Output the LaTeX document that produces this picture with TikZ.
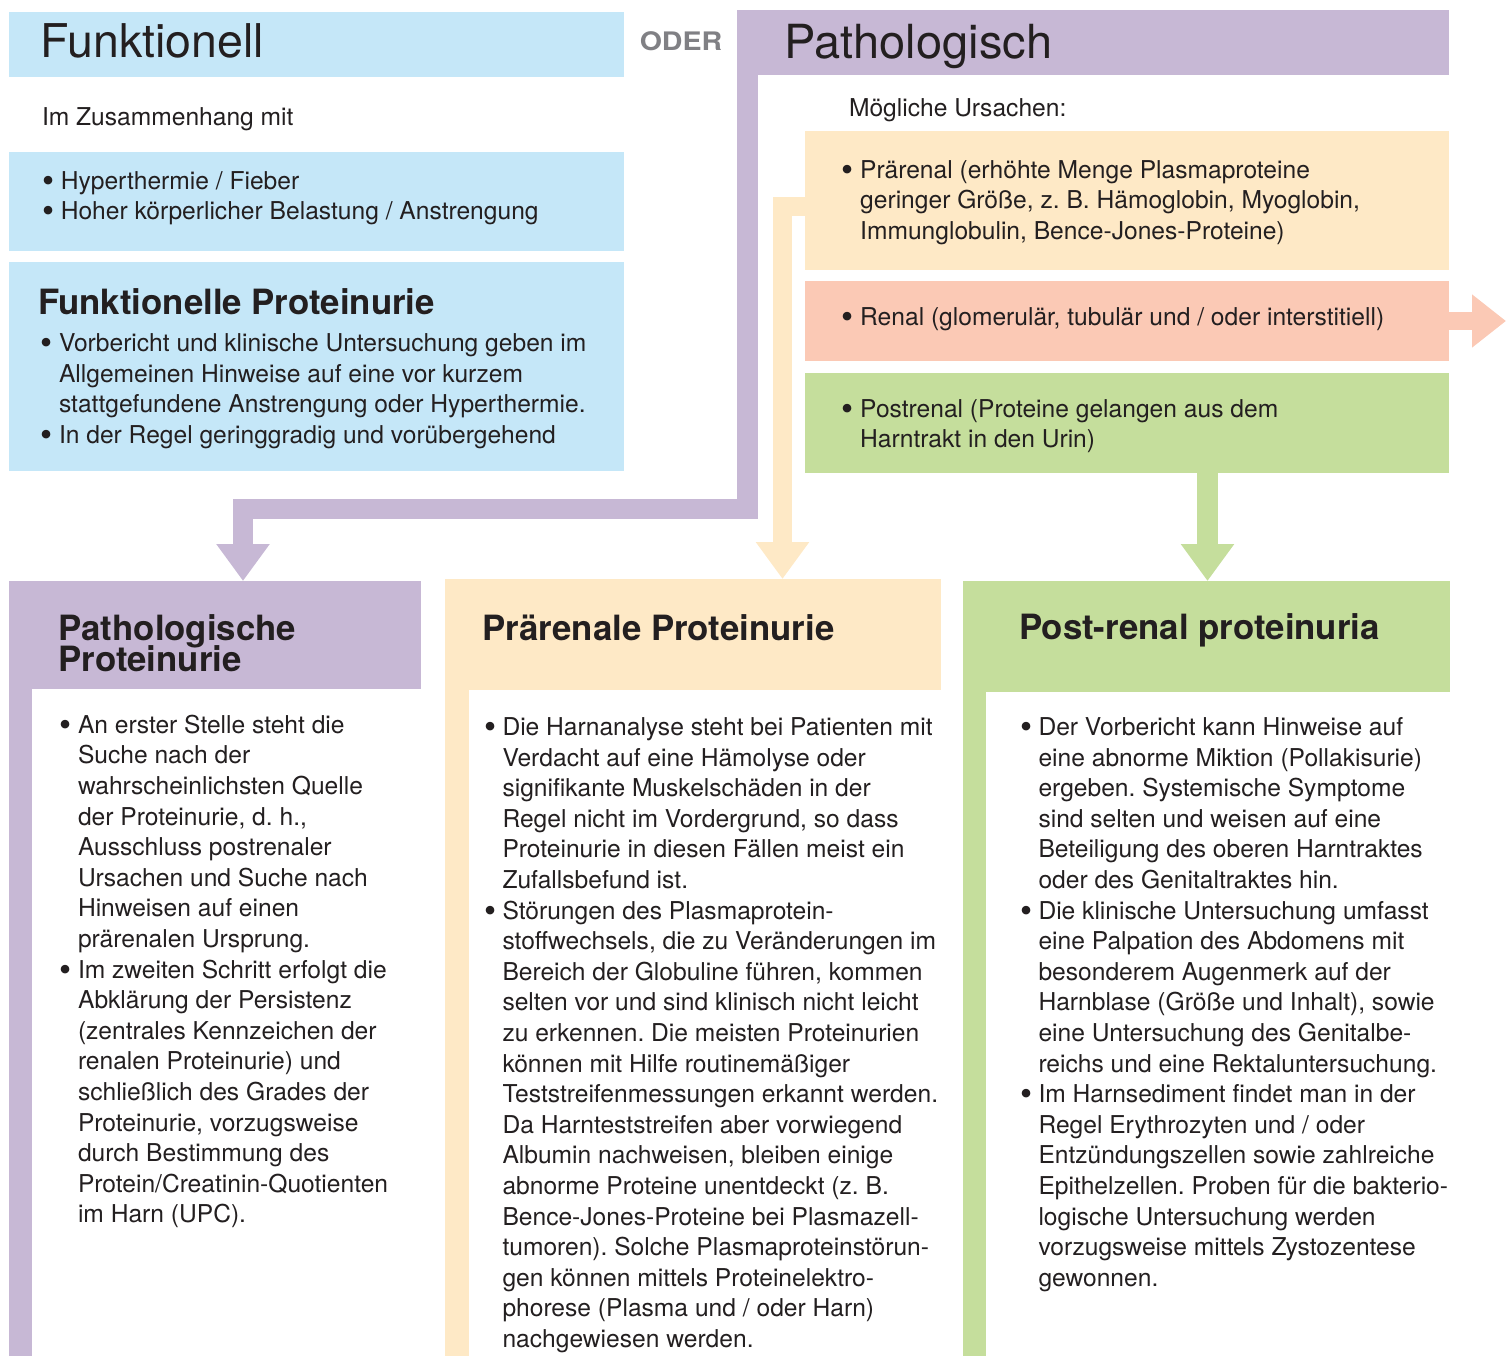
\documentclass[tikz,border=0pt]{standalone}
\usepackage{fontspec}
\usepackage{graphicx}
\setmainfont{TeX Gyre Heros}
\usetikzlibrary{arrows.meta}
\frenchspacing
\definecolor{cblue}{HTML}{C5E7F8}
\definecolor{cpurple}{HTML}{C7B8D5}
\definecolor{cbeige}{HTML}{FEE9C6}
\definecolor{csalmon}{HTML}{FBC9B5}
\definecolor{cgreen}{HTML}{C5DE9C}
\definecolor{ctext}{HTML}{231F20}
\definecolor{cgray}{HTML}{808084}
\newcommand\bodyfont{\fontsize{24.6}{30.6}\selectfont\frenchspacing}
\newcommand\headfont{\bfseries\fontsize{34.8}{31}\selectfont\lineskiplimit=-100pt }
\newcommand\bl{\makebox[18.5pt][l]{\smash{\raisebox{-3pt}{\scalebox{1.4}{\textbullet}}}}}
\newcommand\ind{\hspace*{18.5pt}}
\newcommand\firstl{\rule{0pt}{26pt}}
\begin{document}
\begin{tikzpicture}[x=1pt,y=-1pt,
  box/.style={inner sep=0, outer sep=0, draw=none},
  txt/.style={anchor=north west, inner sep=0, outer sep=0, align=left, text=ctext, font=\bodyfont},
  one/.style={anchor=base west, inner sep=0, outer sep=0, text=ctext, font=\bodyfont},
  hd/.style={anchor=north west, inner sep=0, outer sep=0, align=left, text=ctext, font=\headfont},
  hdone/.style={anchor=base west, inner sep=0, outer sep=0, text=ctext, font=\headfont},
  blockarrow/.style={line join=miter, -{Triangle[width=51pt,length=37pt]}}]
\useasboundingbox (0,0) rectangle (1506,1355);

% ---------- boxes ----------
\node[box, fill=cblue, minimum width=615, minimum height=65] (funk) at (316.5,44.5) {};
\node[box, fill=cblue, minimum width=615, minimum height=99] (blue2) at (316.5,201.5) {};
\node[box, fill=cblue, minimum width=615, minimum height=209] (blue3) at (316.5,366.5) {};
\node[box, fill=cpurple, minimum width=712, minimum height=65] (pathhead) at (1093,42.5) {};
\node[box, fill=cbeige, minimum width=644, minimum height=139] (praebox) at (1127,200.5) {};
\node[box, fill=csalmon, minimum width=644, minimum height=80] (renbox) at (1127,321) {};
\node[box, fill=cgreen, minimum width=644, minimum height=100] (postbox) at (1127,423) {};
\node[box, fill=cpurple, minimum width=412, minimum height=108] (colA) at (215,635) {};
\node[box, fill=cbeige, minimum width=496, minimum height=111] (colB) at (693,634.5) {};
\node[box, fill=cgreen, minimum width=487, minimum height=111] (colC) at (1206.5,636.5) {};
\node[box, fill=cpurple, minimum width=23, minimum height=668] (stripeA) at (20.5,1022) {};
\node[box, fill=cbeige, minimum width=24, minimum height=667] (stripeB) at (457,1022.5) {};
\node[box, fill=cgreen, minimum width=23, minimum height=665] (stripeC) at (974.5,1023.5) {};

% ---------- connectors ----------
\coordinate (pstart) at ([xshift=10.5pt]pathhead.south west);
\coordinate (pbend) at (747.5,509);
\coordinate (ptarget) at ([xshift=28pt]colA.north);
\draw[blockarrow, cpurple, line width=20.5pt] (pstart) -- (pbend) -| (ptarget);

\coordinate (bbend) at (782.5,206.5);
\draw[blockarrow, cbeige, line width=19pt] (bbend -| praebox.west) -- (bbend) -- (bbend |- colB.north);

\coordinate (gstart) at ([xshift=80.5pt]postbox.south);
\draw[blockarrow, cgreen, line width=21pt] (gstart) -- (gstart |- colC.north);

\coordinate (rend) at (1506,321);
\draw[csalmon, line width=18pt, -{Triangle[width=51pt,length=34pt]}] (renbox.east) -- (rend);

% ---------- texts ----------
\node[anchor=base west, inner sep=0, text=ctext, font=\fontsize{46.5}{50}\selectfont] (funkt) at (40.5,57.5) {Funktionell};
\node[anchor=base west, inner sep=0, text=ctext, font=\fontsize{47}{50}\selectfont] (patht) at (784.5,58.5) {Pathologisch};
\node[anchor=base, inner sep=0, text=cgray, font=\bfseries\fontsize{25.5}{25}\selectfont] (oder) at (681,50) {\scalebox{1.12}[1]{ODER}};

\node[one] (imz) at (42,125) {Im Zusammenhang mit};
\node[txt] (b2t) at (42.3,163) {\firstl\bl Hyperthermie / Fieber\\
\bl Hoher körperlicher Belastung / Anstrengung};

\node[hdone] (b3h) at (38,314) {Funktionelle Proteinurie};
\node[txt] (b3t) at (40.5,325.7) {\firstl\bl Vorbericht und klinische Untersuchung geben im\\
\ind Allgemeinen Hinweise auf eine vor kurzem\\
\ind stattgefundene Anstrengung oder Hyperthermie.\\
\bl In der Regel geringgradig und vorübergehend};

\node[one] (moeg) at (849,116) {Mögliche Ursachen:};
\node[txt] (praet) at (841.7,152.3) {\firstl\bl Prärenal (erhöhte Menge Plasmaproteine\\
\ind geringer Größe, z. B. Hämoglobin, Myoglobin,\\
\ind Immunglobulin, Bence-Jones-Proteine)};
\node[one] (rent) at (841.7,325) {\bl Renal (glomerulär, tubulär und / oder interstitiell)};
\node[txt] (postt) at (841.7,391.3) {\firstl\bl Postrenal (Proteine gelangen aus dem\\
\ind Harntrakt in den Urin)};

\node[hd] (colAh) at (58.5,606) {\rule{0pt}{34pt}Pathologische\\Proteinurie};
\node[hdone] (colBh) at (482.5,640) {Prärenale Proteinurie};
\node[hdone] (colCh) at (1019,639.5) {Post-renal proteinuria};

\node[txt] (colAt) at (59.5,707.3) {\firstl\bl An erster Stelle steht die\\
\ind Suche nach der\\
\ind wahrscheinlichsten Quelle\\
\ind der Proteinurie, d. h.,\\
\ind Ausschluss postrenaler\\
\ind Ursachen und Suche nach\\
\ind Hinweisen auf einen\\
\ind prärenalen Ursprung.\\
\bl Im zweiten Schritt erfolgt die\\
\ind Abklärung der Persistenz\\
\ind (zentrales Kennzeichen der\\
\ind renalen Proteinurie) und\\
\ind schließlich des Grades der\\
\ind Proteinurie, vorzugsweise\\
\ind durch Bestimmung des\\
\ind Protein/Creatinin-Quotienten\\
\ind im Harn (UPC).};

\node[txt] (colBt) at (484,709.5) {\firstl\bl Die Harnanalyse steht bei Patienten mit\\
\ind Verdacht auf eine Hämolyse oder\\
\ind signifikante Muskelschäden in der\\
\ind Regel nicht im Vordergrund, so dass\\
\ind Proteinurie in diesen Fällen meist ein\\
\ind Zufallsbefund ist.\\
\bl Störungen des Plasmaprotein-\\
\ind stoffwechsels, die zu Veränderungen im\\
\ind Bereich der Globuline führen, kommen\\
\ind selten vor und sind klinisch nicht leicht\\
\ind zu erkennen. Die meisten Proteinurien\\
\ind können mit Hilfe routinemäßiger\\
\ind Teststreifenmessungen erkannt werden.\\
\ind Da Harnteststreifen aber vorwiegend\\
\ind Albumin nachweisen, bleiben einige\\
\ind abnorme Proteine unentdeckt (z. B.\\
\ind Bence-Jones-Proteine bei Plasmazell-\\
\ind tumoren). Solche Plasmaproteinstörun-\\
\ind gen können mittels Proteinelektro-\\
\ind phorese (Plasma und / oder Harn)\\
\ind nachgewiesen werden.};

\node[txt] (colCt) at (1020,709.5) {\firstl\bl Der Vorbericht kann Hinweise auf\\
\ind eine abnorme Miktion (Pollakisurie)\\
\ind ergeben. Systemische Symptome\\
\ind sind selten und weisen auf eine\\
\ind Beteiligung des oberen Harntraktes\\
\ind oder des Genitaltraktes hin.\\
\bl Die klinische Untersuchung umfasst\\
\ind eine Palpation des Abdomens mit\\
\ind besonderem Augenmerk auf der\\
\ind Harnblase (Größe und Inhalt), sowie\\
\ind eine Untersuchung des Genitalbe-\\
\ind reichs und eine Rektaluntersuchung.\\
\bl Im Harnsediment findet man in der\\
\ind Regel Erythrozyten und / oder\\
\ind Entzündungszellen sowie zahlreiche\\
\ind Epithelzellen. Proben für die bakterio-\\
\ind logische Untersuchung werden\\
\ind vorzugsweise mittels Zystozentese\\
\ind gewonnen.};
\end{tikzpicture}
\end{document}
